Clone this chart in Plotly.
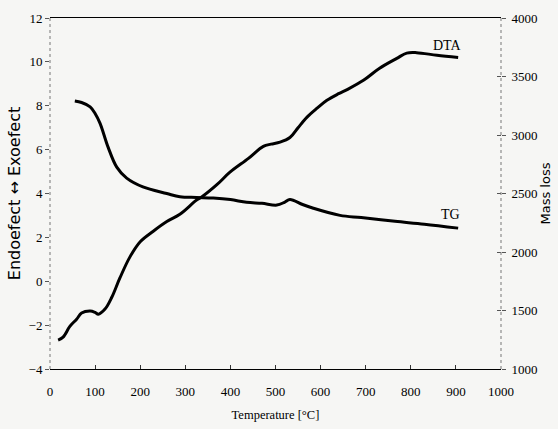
import plotly.graph_objects as go

# DTA curve (left axis: Endoefect <-> Exoefect)
dta_temp = [18, 29, 44, 59, 70, 89, 100, 107, 122, 137, 155, 177, 200, 229, 259, 288, 325, 337,
            370, 399, 440, 473, 490, 510, 532, 550, 570, 593, 614, 640, 660, 695, 730, 769,
            791, 813, 858, 905]
dta_val = [-2.68, -2.55, -2.06, -1.73, -1.45, -1.36, -1.42, -1.5, -1.27, -0.73, 0.15, 1.1, 1.8,
           2.28, 2.72, 3.05, 3.7, 3.85, 4.4, 4.97, 5.6, 6.15, 6.25, 6.34, 6.55, 7.0, 7.48, 7.9,
           8.25, 8.55, 8.75, 9.16, 9.7, 10.16, 10.4, 10.42, 10.3, 10.2]

# TG curve (right axis: Mass loss)
tg_temp = [55, 70, 89, 100, 111, 129, 148, 170, 206, 259, 288, 325, 362, 400, 436, 470, 503,
           520, 532, 560, 584, 643, 690, 765, 830, 905]
tg_val = [3291, 3278, 3241, 3184, 3100, 2894, 2725, 2631, 2556, 2500, 2472, 2466, 2461, 2448,
          2425, 2416, 2401, 2425, 2449, 2406, 2374, 2313, 2294, 2262, 2238, 2204]

x_ticks = [0, 100, 200, 300, 400, 500, 600, 700, 800, 900, 1000]
left_ticks = [-4, -2, 0, 2, 4, 6, 8, 10, 12]
right_ticks = [1000, 1500, 2000, 2500, 3000, 3500, 4000]

serif = "Liberation Serif, Times New Roman, serif"
sans = "DejaVu Sans"
bg = "#f6f6f4"

fig = go.Figure()
fig.add_trace(go.Scatter(x=dta_temp, y=dta_val, mode="lines", line=dict(color="black", width=3, shape="spline"),
                         showlegend=False, yaxis="y"))
fig.add_trace(go.Scatter(x=tg_temp, y=tg_val, mode="lines", line=dict(color="black", width=3, shape="spline"),
                         showlegend=False, yaxis="y2"))
fig.add_trace(go.Scatter(x=[None], y=[None], yaxis="y3", showlegend=False, hoverinfo="skip"))

fig.update_layout(
    width=558, height=429,
    margin=dict(l=50, r=57, t=18, b=60),
    paper_bgcolor=bg, plot_bgcolor=bg,
    font=dict(family=serif, size=13, color="black"),
    xaxis=dict(range=[0, 1000], tickvals=x_ticks, ticks="inside", ticklen=4, tickcolor="#333",
               showgrid=False, zeroline=False, showline=True, linecolor="black", linewidth=1.2,
               mirror=True, automargin=False, ticklabelstandoff=10,
               tickfont=dict(family=serif, size=13),
               title=dict(text="Temperature [°C]", font=dict(family=serif, size=12.5), standoff=12)),
    yaxis=dict(range=[-4, 12], tickvals=left_ticks, ticks="outside", ticklen=4, tickcolor="#555",
               showgrid=False, zeroline=False, showline=False, automargin=False,
               tickfont=dict(family=serif, size=13),
               title=dict(text="Endoefect ↔ Exoefect", font=dict(family=sans, size=16), standoff=3)),
    yaxis2=dict(range=[1000, 4000], tickvals=right_ticks, overlaying="y", side="right", ticks="outside",
                ticklen=4, tickcolor="#555", showgrid=False, zeroline=False, showline=False,
                automargin=False, ticklabelstandoff=3,
                tickfont=dict(family=serif, size=13),
                title=dict(text="Mass loss", font=dict(family=sans, size=13), standoff=4)),
    yaxis3=dict(range=[1000, 4000], tickvals=right_ticks, overlaying="y", side="right", ticks="inside",
                ticklen=4, tickcolor="#555", showgrid=False, zeroline=False, showline=False,
                showticklabels=False, automargin=False),
    shapes=[
        dict(type="line", xref="paper", yref="paper", x0=0, x1=0, y0=0, y1=1,
             line=dict(color="#777", width=1, dash="dot")),
        dict(type="line", xref="paper", yref="paper", x0=1, x1=1, y0=0, y1=1,
             line=dict(color="#777", width=1, dash="dot")),
    ],
    annotations=[
        dict(x=882, y=10.75, xref="x", yref="y", text="DTA", showarrow=False,
             font=dict(family=serif, size=14, color="black")),
        dict(x=887, y=2322, xref="x", yref="y2", text="TG", showarrow=False,
             font=dict(family=serif, size=14, color="black")),
    ],
)

fig.write_html("out.html", config={"displayModeBar": False},
               post_script="document.body.style.margin='0';document.body.style.padding='0';"
                           "document.body.style.overflow='hidden';")
